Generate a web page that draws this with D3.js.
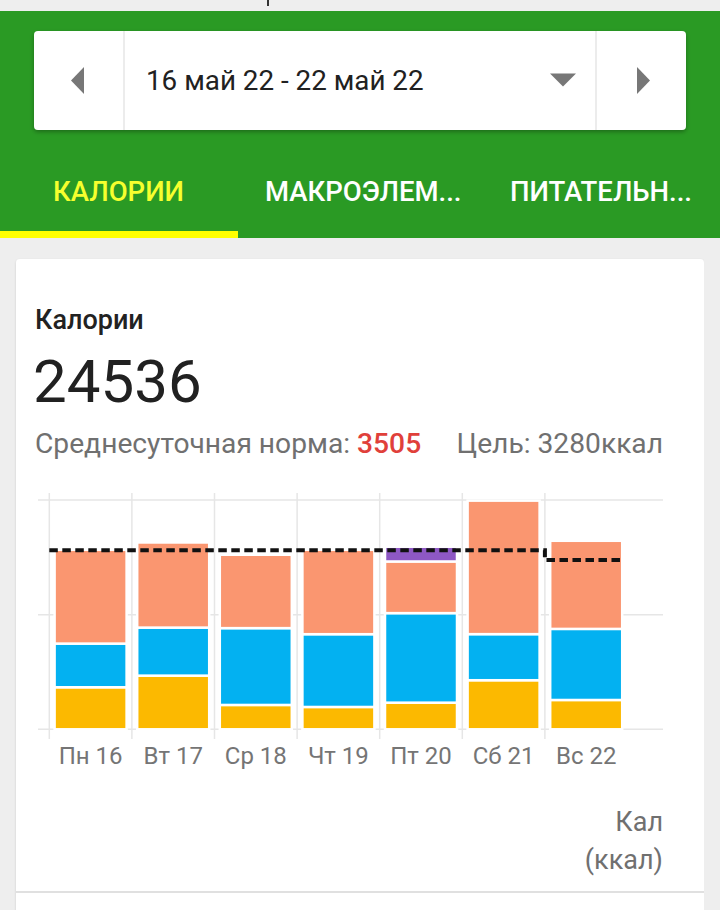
<!DOCTYPE html>
<html>
<head>
<meta charset="utf-8">
<script src="https://cdn.jsdelivr.net/npm/d3@7"></script>
<style>
  html, body { margin: 0; padding: 0; background: #eeeeee; }
  svg { display: block; font-family: Roboto, "Noto Sans", sans-serif; }
</style>
</head>
<body>
<script>
// ---- data ----
const days = ["Пн 16", "Вт 17", "Ср 18", "Чт 19", "Пт 20", "Сб 21", "Вс 22"];
const seriesYellow = [770, 983, 446, 409, 488, 899, 537];
const seriesBlue   = [800, 880, 1407, 1333, 1640, 844, 1302];
const seriesOrange = [1718, 1559, 1344, 1546, 946, 2445, 1614];
const seriesPurple = [0, 0, 0, 0, 270, 0, 0];
const goalLine     = [3280, 3280, 3280, 3280, 3280, 3280, 3100];
const yTicks = [0, 2100, 4200];
const seriesKeys = ["yellow", "blue", "orange", "purple"];
const seriesColors = { yellow: "#FCB900", blue: "#03B1F1", orange: "#FA9670", purple: "#8E58C4" };

const rows = days.map((d, i) => ({
  day: d, yellow: seriesYellow[i], blue: seriesBlue[i],
  orange: seriesOrange[i], purple: seriesPurple[i], goal: goalLine[i]
}));

const W = 720, H = 910;
const svg = d3.select("body").append("svg").attr("width", W).attr("height", H);

const defs = svg.append("defs");
const f1 = defs.append("filter").attr("id", "sh").attr("x", "-5%").attr("y", "-10%").attr("width", "110%").attr("height", "130%");
f1.append("feDropShadow").attr("dx", 0).attr("dy", 2).attr("stdDeviation", 2).attr("flood-color", "#000").attr("flood-opacity", 0.3);
const f2 = defs.append("filter").attr("id", "sh2").attr("x", "-5%").attr("y", "-5%").attr("width", "110%").attr("height", "110%");
f2.append("feDropShadow").attr("dx", 0).attr("dy", 1).attr("stdDeviation", 1).attr("flood-color", "#000").attr("flood-opacity", 0.15);

// background
svg.append("rect").attr("width", W).attr("height", H).attr("fill", "#eeeeee");
svg.append("rect").attr("x", 267).attr("y", 0).attr("width", 2).attr("height", 6).attr("fill", "#333");

// green header
svg.append("rect").attr("x", 0).attr("y", 11).attr("width", W).attr("height", 227).attr("fill", "#2A9A24");

// date selector card
svg.append("rect").attr("x", 34).attr("y", 31).attr("width", 652).attr("height", 99).attr("rx", 4)
  .attr("fill", "#fff").attr("filter", "url(#sh)");
svg.append("line").attr("x1", 124).attr("x2", 124).attr("y1", 31).attr("y2", 130).attr("stroke", "#e6e6e6").attr("stroke-width", 1.5);
svg.append("line").attr("x1", 596).attr("x2", 596).attr("y1", 31).attr("y2", 130).attr("stroke", "#e6e6e6").attr("stroke-width", 1.5);
svg.append("path").attr("d", "M84,67 L71,80.5 L84,94 Z").attr("fill", "#777");
svg.append("path").attr("d", "M637,67 L650,80.5 L637,94 Z").attr("fill", "#777");
svg.append("path").attr("d", "M550,73.5 L576,73.5 L563,86.5 Z").attr("fill", "#777");
svg.append("text").attr("x", 146).attr("y", 90).attr("font-size", 27.8).attr("fill", "#212121")
  .text("16 май 22 - 22 май 22");

// tabs
const tabs = [
  { t: "КАЛОРИИ", x: 53, c: "#F6FF2E" },
  { t: "МАКРОЭЛЕМ...", x: 265, c: "#ffffff" },
  { t: "ПИТАТЕЛЬН...", x: 510, c: "#ffffff" }
];
svg.selectAll("text.tab").data(tabs).join("text").attr("class", "tab")
  .attr("x", d => d.x).attr("y", 201).attr("font-size", 27.5).attr("font-weight", 500)
  .attr("fill", d => d.c).text(d => d.t);
svg.append("rect").attr("x", 0).attr("y", 231).attr("width", 238).attr("height", 7).attr("fill", "#FFFF00");

// main card
svg.append("rect").attr("x", 16).attr("y", 259).attr("width", 688).attr("height", 700).attr("rx", 4)
  .attr("fill", "#fff").attr("filter", "url(#sh2)");
svg.append("rect").attr("x", 16).attr("y", 891).attr("width", 688).attr("height", 2).attr("fill", "#e0e0e0");

svg.append("text").attr("x", 35).attr("y", 329).attr("font-size", 27).attr("font-weight", 500)
  .attr("fill", "#222").text("Калории");
svg.append("text").attr("x", 33).attr("y", 402).attr("font-size", 60).attr("fill", "#212121")
  .text("24536");
const avg = svg.append("text").attr("x", 35).attr("y", 453).attr("font-size", 28.2).attr("fill", "#707070");
avg.append("tspan").text("Среднесуточная норма: ");
avg.append("tspan").attr("fill", "#E0403A").attr("font-weight", 500).text("3505");
svg.append("text").attr("x", 663).attr("y", 453).attr("font-size", 28.2)
  .attr("text-anchor", "end").attr("fill", "#707070").text("Цель: 3280ккал");

// ---- chart ----
const x = d3.scaleBand().domain(days).range([49.3, 627.5]).paddingInner(0).paddingOuter(0);
const y = d3.scaleLinear().domain([0, 4200]).range([729.3, 500]);
const barW = 70;

const g = svg.append("g");
// horizontal grid
g.selectAll("line.hg").data(yTicks).join("line").attr("class", "hg")
  .attr("x1", 38).attr("x2", 663).attr("y1", d => y(d)).attr("y2", d => y(d))
  .attr("stroke", "#e6e6e6").attr("stroke-width", 1.5);
// vertical grid at band starts
g.selectAll("line.vg").data(days).join("line").attr("class", "vg")
  .attr("x1", d => x(d)).attr("x2", d => x(d)).attr("y1", 493).attr("y2", 739)
  .attr("stroke", "#e6e6e6").attr("stroke-width", 1.5);

// stacked bars
const stack = d3.stack().keys(seriesKeys)(rows);
g.selectAll("g.layer").data(stack).join("g").attr("class", "layer")
  .attr("fill", d => seriesColors[d.key])
  .selectAll("rect").data(d => d.filter(s => s[1] - s[0] > 0)).join("rect")
  .attr("x", d => x(d.data.day) + (x.bandwidth() - barW) / 2 - 1)
  .attr("width", barW + 2)
  .attr("y", d => y(d[1]))
  .attr("height", d => y(d[0]) - y(d[1]))
  .attr("stroke", "#fff").attr("stroke-width", 2.5);

// goal dashed line
const last = days[days.length - 1];
const goalPts = [[x.range()[0], rows[0].goal]]
  .concat(rows.map(r => [x(r.day) + x.bandwidth() / 2, r.goal]))
  .concat([[x(last) + (x.bandwidth() + barW) / 2, rows[rows.length - 1].goal]]);
g.append("path").datum(goalPts)
  .attr("d", d3.line().x(d => d[0]).y(d => y(d[1])).curve(d3.curveStep))
  .attr("fill", "none").attr("stroke", "#111").attr("stroke-width", 4)
  .attr("stroke-dasharray", "8.5,4.5");

// x axis labels
g.selectAll("text.xl").data(days).join("text").attr("class", "xl")
  .attr("x", d => x(d) + x.bandwidth() / 2).attr("y", 764)
  .attr("text-anchor", "middle").attr("font-size", 24).attr("fill", "#757575").text(d => d);

// unit label
svg.append("text").attr("x", 663).attr("y", 831).attr("text-anchor", "end").attr("font-size", 27)
  .attr("fill", "#707070").text("Кал");
svg.append("text").attr("x", 663).attr("y", 869).attr("text-anchor", "end").attr("font-size", 27)
  .attr("fill", "#707070").text("(ккал)");
svg.append("rect").attr("x", 704).attr("y", 238).attr("width", 16).attr("height", 672).attr("fill", "#eeeeee");
</script>
</body>
</html>
